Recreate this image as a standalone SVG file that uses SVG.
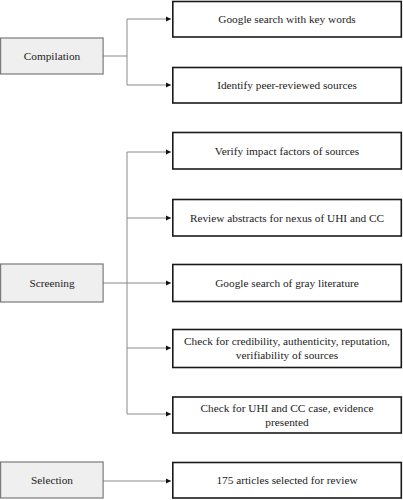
<svg xmlns="http://www.w3.org/2000/svg" width="403" height="500" viewBox="0 0 403 500">
<style>
.stage rect{fill:#efefef;stroke:#7a7a7a;stroke-width:1.2}
.step rect{fill:#fff;stroke:#1a1a1a;stroke-width:1.6}
.lbl{font-family:'Liberation Serif','Times New Roman',Times,serif;font-size:11.3px;fill:#222;text-anchor:middle}
.conn path{fill:none;stroke:#8a8a8a;stroke-width:1}
</style>
<defs>
<marker id="ah" markerWidth="6" markerHeight="6" refX="5" refY="3" orient="auto" markerUnits="userSpaceOnUse">
<path d="M0,0.5 L5,3 L0,5.5 Z" fill="#111"/>
</marker>
</defs>
<rect width="403" height="500" fill="#fff"/>
<g class="conn">
<path d="M103,56 H127"/>
<path d="M127,19 V85"/>
<path d="M127,19 H171" marker-end="url(#ah)"/>
<path d="M127,85 H171" marker-end="url(#ah)"/>
<path d="M127,152 V414"/>
<path d="M127,152 H171" marker-end="url(#ah)"/>
<path d="M127,218 H171" marker-end="url(#ah)"/>
<path d="M103,283 H171" marker-end="url(#ah)"/>
<path d="M127,348 H171" marker-end="url(#ah)"/>
<path d="M127,414 H171" marker-end="url(#ah)"/>
<path d="M103,481 H171" marker-end="url(#ah)"/>
</g>
<g font-family="Liberation Serif, Times New Roman, serif">
<g id="compilation" class="stage"><rect x="0.6" y="38" width="102.5" height="36"/><text class="lbl" x="52" y="60">Compilation</text></g>
<g id="screening" class="stage"><rect x="0.6" y="264" width="102.5" height="38"/><text class="lbl" x="52" y="287">Screening</text></g>
<g id="selection" class="stage"><rect x="0.6" y="462" width="102.5" height="36"/><text class="lbl" x="52" y="484">Selection</text></g>
<g id="s1" class="step"><rect x="172.8" y="1.5" width="228.5" height="35.5"/><text class="lbl" x="287" y="23">Google search with key words</text></g>
<g id="s2" class="step"><rect x="172.8" y="67.5" width="228.5" height="35.5"/><text class="lbl" x="287" y="89">Identify peer-reviewed sources</text></g>
<g id="s3" class="step"><rect x="172.8" y="132.5" width="228.5" height="36.5"/><text class="lbl" x="287" y="155">Verify impact factors of sources</text></g>
<g id="s4" class="step"><rect x="172.8" y="199.5" width="228.5" height="36.5"/><text class="lbl" x="287" y="222">Review abstracts for nexus of UHI and CC</text></g>
<g id="s5" class="step"><rect x="172.8" y="264.5" width="228.5" height="37"/><text class="lbl" x="287" y="287">Google search of gray literature</text></g>
<g id="s6" class="step"><rect x="172.8" y="329.5" width="228.5" height="38"/><text class="lbl" x="287" y="345">Check for credibility, authenticity, reputation,</text><text class="lbl" x="287" y="359">verifiability of sources</text></g>
<g id="s7" class="step"><rect x="172.8" y="397" width="228.5" height="36"/><text class="lbl" x="287" y="412">Check for UHI and CC case, evidence</text><text class="lbl" x="287" y="426">presented</text></g>
<g id="s8" class="step"><rect x="172.8" y="462.5" width="228.5" height="35.5"/><text class="lbl" x="287" y="484">175 articles selected for review</text></g>
</g>
</svg>
